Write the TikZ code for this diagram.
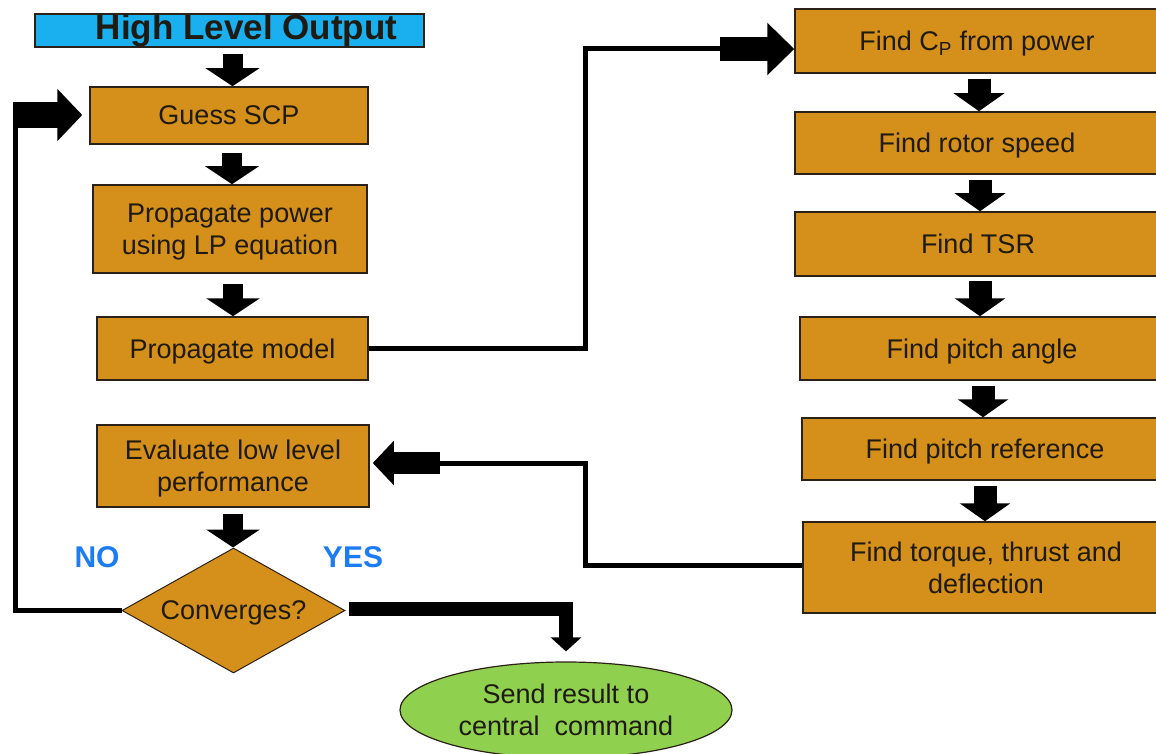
\documentclass[tikz,border=0pt]{standalone}
\usepackage{fontspec}
\setmainfont{Liberation Sans}
\usetikzlibrary{arrows.meta,shapes.geometric,calc}
\definecolor{boxfill}{HTML}{D4901A}
\definecolor{boxline}{HTML}{2B2116}
\definecolor{txt}{HTML}{1F1A12}
\definecolor{hlofill}{HTML}{1AB0F0}
\definecolor{ellfill}{HTML}{8FD14F}
\definecolor{lblue}{HTML}{1C7CF4}
\tikzset{
  box/.style={draw=boxline, line width=1.5pt, fill=boxfill, text=txt,
    font=\fontsize{27}{32}\selectfont, align=center, inner sep=0pt, text depth=0pt},
  hlobox/.style={draw=boxline, line width=1.5pt, fill=hlofill, text=txt,
    font=\fontsize{35}{40}\selectfont\bfseries, inner sep=0pt},
  decide/.style={diamond, aspect=1.78, draw=boxline, line width=1pt, fill=boxfill, text=txt,
    font=\fontsize{27}{32}\selectfont, inner sep=0pt, text depth=0pt},
  term/.style={ellipse, draw=boxline, line width=1.2pt, fill=ellfill, text=txt,
    font=\fontsize{27}{32}\selectfont, align=center, inner sep=0pt},
  lbl/.style={text=lblue, font=\fontsize{30}{34}\selectfont\bfseries},
  downL/.style={line width=20pt, -{Triangle[width=53pt,length=18pt]}},
  downR/.style={line width=23pt, -{Triangle[width=50pt,length=18pt]}},
  enterarrow/.style={line width=24pt, -{Triangle[width=51pt,length=27pt]}},
  looparrow/.style={line width=26pt, -{Triangle[width=51pt,length=25pt]}},
  backarrow/.style={line width=22pt, -{Triangle[width=43pt,length=21pt]}},
  yesarrow/.style={line width=14pt, line join=miter, -{Triangle[width=30pt,length=14pt]}},
  conn/.style={line width=5pt, line join=miter},
}
\begin{document}
\begin{tikzpicture}[x=1pt,y=-1pt]
\useasboundingbox (0,0) rectangle (1156,754);
\fill[white] (0,0) rectangle (1156,754);

% left column
\node[hlobox, minimum width=389pt, minimum height=33pt] (hlo) at (229.5,30.5) {\hspace*{34pt}High Level Output};
\node[box, minimum width=278pt, minimum height=57pt] (gs) at (229,115.5) {Guess SCP};
\node[box, minimum width=274pt, minimum height=88pt] (pp) at (230,229) {Propagate power\\using LP equation};
\node[box, minimum width=271pt, minimum height=63pt] (pm) at (232.5,348.5) {Propagate model};
\node[box, minimum width=272pt, minimum height=82pt] (ev) at (233,466) {Evaluate low level\\performance};
\node[decide, minimum width=223pt, minimum height=125pt] (cv) at (233.5,610.5) {Converges?};
\node[term, minimum width=332pt, minimum height=96pt] (el) at (566,710) {Send result to\\central\ \ command};
\node[lbl] (no) at (97,557) {NO};
\node[lbl] (yes) at (353,557) {YES};

% right column
\node[box, minimum width=364pt, minimum height=64pt] (cp) at (977,41) {Find C\textsubscript{P} from power};
\node[box, minimum width=364pt, minimum height=62pt] (rs) at (977,143) {Find rotor speed};
\node[box, minimum width=366pt, minimum height=64pt] (tsr) at (978,244) {Find TSR};
\node[box, minimum width=364pt, minimum height=63pt] (pa) at (982,348.5) {Find pitch angle};
\node[box, minimum width=366pt, minimum height=62pt] (pr) at (985,449) {Find pitch reference};
\node[box, minimum width=366pt, minimum height=91pt] (tq) at (986,567.5) {Find torque, thrust and\\deflection};

% vertical block arrows, left column
\draw[downL] ([yshift=-6pt,xshift=3pt]hlo.south) -- ([xshift=3pt]hlo.south |- gs.north);
\draw[downL] ([yshift=-8pt,xshift=3pt]gs.south) -- ([xshift=3pt]gs.south |- pp.north);
\draw[downL] ([yshift=-10pt,xshift=3pt]pp.south) -- ([xshift=3pt]pp.south |- pm.north);
\draw[downL] ([yshift=-6pt]ev.south) -- (ev.south |- cv.north);

% vertical block arrows, right column
\draw[downR] ([yshift=-5pt,xshift=2pt]cp.south) -- ([xshift=2pt]cp.south |- rs.north);
\draw[downR] ([yshift=-5pt,xshift=3pt]rs.south) -- ([xshift=3pt]rs.south |- tsr.north);
\draw[downR] ([yshift=-4pt,xshift=2pt]tsr.south) -- ([xshift=2pt]tsr.south |- pa.north);
\draw[downR] ([yshift=-5pt,xshift=1pt]pa.south) -- ([xshift=1pt]pa.south |- pr.north);
\draw[downR] ([yshift=-5pt]pr.south) -- (pr.south |- tq.north);

% Propagate model -> Find C_P
\coordinate (j1) at (722,49);
\draw[conn] (pm.east) -| (585,49) -- (j1);
\draw[enterarrow] ([xshift=-2pt]j1) -- (cp.west |- j1);

% Find torque -> Evaluate
\coordinate (j2) at (438,463);
\draw[conn] ([yshift=2pt]tq.west) -| (585,463) -- (j2);
\draw[backarrow] ([xshift=2pt]j2) -- ([xshift=3pt]ev.east |- j2);

% NO loop
\coordinate (j3) at (15.5,115);
\draw[conn] (cv.west) -| (j3);
\draw[looparrow] ([xshift=-2.5pt]j3) -- ([xshift=-7pt]gs.west |- j3);

% YES
\draw[yesarrow] ([xshift=3pt,yshift=2pt]cv.east) -| ([yshift=10pt]el.north);
\end{tikzpicture}
\end{document}
